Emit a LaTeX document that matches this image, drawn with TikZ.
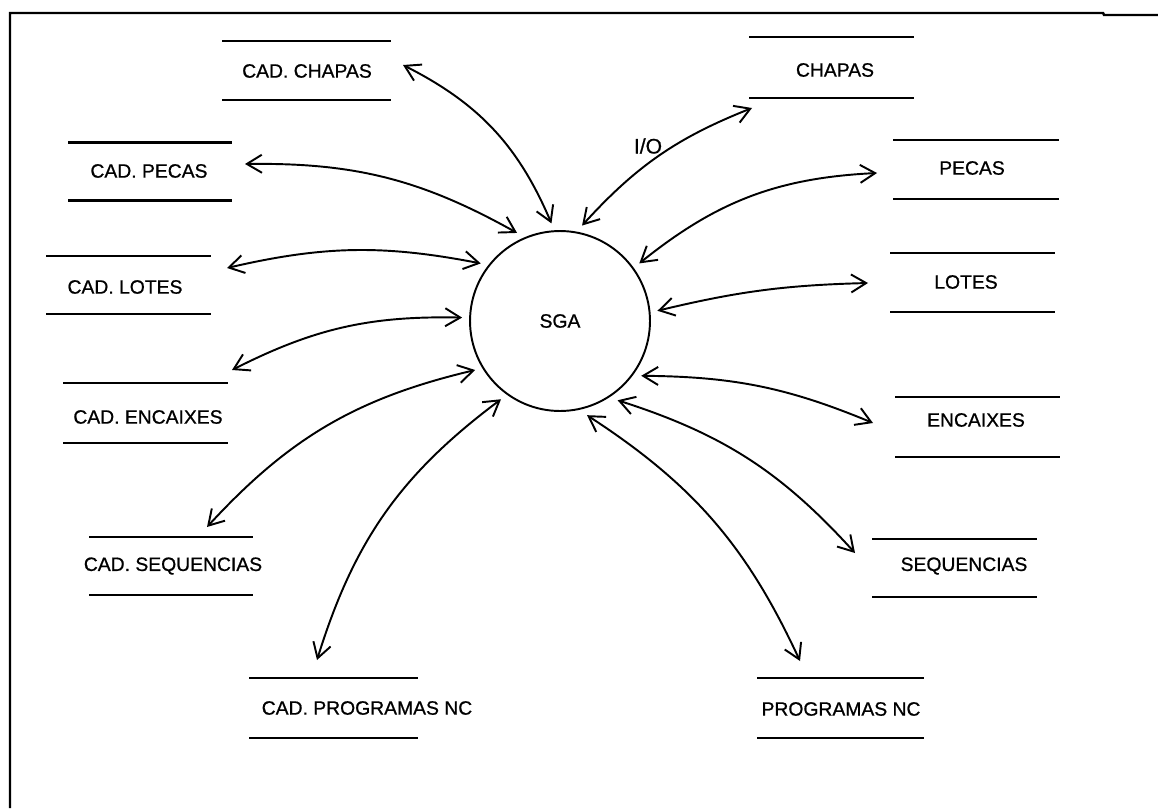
\documentclass[tikz,border=0pt]{standalone}
\usepackage{fontspec}
\setmainfont{Liberation Sans}
\newfontfamily\plotfont{Liberation Sans}[FakeBold=0.8]
\usetikzlibrary{arrows.meta}
\begin{document}
\begin{tikzpicture}[x=0.02cm, y=-0.02cm,
  lbl/.style={font=\plotfont\fontsize{11}{13}\selectfont, inner sep=0pt},
  storeline/.style={draw, line width=1.3pt, -},
  storebox/.style 2 args={minimum width=#1, minimum height=#2, inner sep=0pt, outer sep=0pt,
    append after command={(\tikzlastnode.north west) edge[storeline] (\tikzlastnode.north east)
                          (\tikzlastnode.south west) edge[storeline] (\tikzlastnode.south east)}},
  conn/.style={draw, line width=1.1pt,
    {Straight Barb[length=3mm,width=3.6mm]}-{Straight Barb[length=3mm,width=3.6mm]}},
  framestyle/.style={line width=1.4pt},
]
\useasboundingbox (0,0) rectangle (1158,808);

% frame
\draw[framestyle] (10,808) -- (10,13) -- (1103,13) -- (1104,15) -- (1158,15);

% process
\node[circle, draw, line width=1.1pt, minimum size=3.6cm, inner sep=0pt, outer sep=0.16cm,
      font=\plotfont\fontsize{11}{13}\selectfont] (sga) at (560,321) {SGA};

% stores, left
\node[storebox={3.38cm}{1.18cm}] (cchapas) at (306.5,70.5) {};
\node[lbl] (cchapas-t) at (307,71) {CAD. CHAPAS};
\node[storebox={3.28cm}{1.16cm}] (cpecas) at (150,171.5) {};
\node[lbl] (cpecas-t) at (149,171) {CAD. PECAS};
\node[storebox={3.30cm}{1.16cm}] (clotes) at (128.5,285) {};
\node[lbl] (clotes-t) at (125,287) {CAD. LOTES};
\node[storebox={3.30cm}{1.20cm}] (cencaixes) at (145.5,413) {};
\node[lbl] (cencaixes-t) at (148,417) {CAD. ENCAIXES};
\node[storebox={3.28cm}{1.16cm}] (csequencias) at (171,566) {};
\node[lbl] (csequencias-t) at (173,566) {CAD. SEQUENCIAS};
\node[storebox={3.38cm}{1.20cm}] (cprogramas) at (333.5,708) {};
\node[lbl] (cprogramas-t) at (367,708) {CAD. PROGRAMAS NC};

% stores, right
\node[storebox={3.30cm}{1.22cm}] (chapas) at (831.5,67.5) {};
\node[lbl] (chapas-t) at (835,70) {CHAPAS};
\node[storebox={3.32cm}{1.18cm}] (pecas) at (976,169.5) {};
\node[lbl] (pecas-t) at (972,168) {PECAS};
\node[storebox={3.30cm}{1.18cm}] (lotes) at (972.5,282.5) {};
\node[lbl] (lotes-t) at (966,282) {LOTES};
\node[storebox={3.30cm}{1.20cm}] (encaixes) at (977.5,427) {};
\node[lbl] (encaixes-t) at (976,420) {ENCAIXES};
\node[storebox={3.30cm}{1.16cm}] (sequencias) at (954.5,568) {};
\node[lbl] (sequencias-t) at (964,566) {SEQUENCIAS};
\node[storebox={3.34cm}{1.20cm}] (programas) at (840.5,708) {};
\node[lbl] (programas-t) at (841,709) {PROGRAMAS NC};

% connectors, left
\draw[conn] ([shift={(96.5,-5.5)}]cchapas.center) to[bend left=20] (sga.95);
\draw[conn] ([shift={(95,-7.5)}]cpecas.center) to[bend left=15] (sga.116);
\draw[conn] ([shift={(98.5,-17)}]clotes.center) to[bend left=12] (sga.144);
\draw[conn] ([shift={(86.5,-43)}]cencaixes.center) to[bend left=14] (sga.178);
\draw[conn] ([shift={(36,-39)}]csequencias.center) to[bend left=17] (sga.210);
\draw[conn] ([shift={(-16.5,-48)}]cprogramas.center) to[bend left=18] (sga.233);

% connectors, right
\draw[conn] (sga.77) to[bend left=13] ([shift={(-79.5,40.5)}]chapas.center);
\draw[conn] (sga.36) to[bend left=18] ([shift={(-99,3.5)}]pecas.center);
\draw[conn] (sga.6) to[bend left=6] ([shift={(-104.5,0.5)}]lotes.center);
\draw[conn] (sga.-34) to[bend left=11] ([shift={(-104.5,-4)}]encaixes.center);
\draw[conn] (sga.-54) to[bend left=15] ([shift={(-99.5,-15)}]sequencias.center);
\draw[conn] (sga.-74) to[bend left=16] ([shift={(-40.5,-47)}]programas.center);

\node[lbl, font=\plotfont\fontsize{12}{14}\selectfont] (io) at (648,146) {I/O};
\end{tikzpicture}
\end{document}
